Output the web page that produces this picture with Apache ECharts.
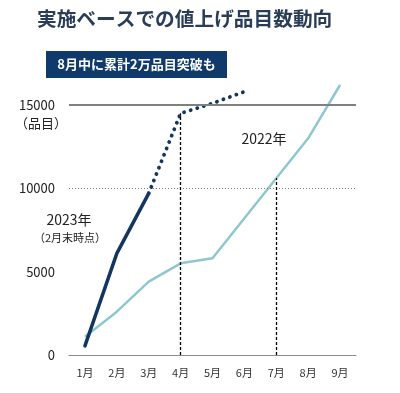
<!DOCTYPE html>
<html><head><meta charset="utf-8">
<script src="https://cdn.jsdelivr.net/npm/echarts@6/dist/echarts.min.js"></script>
<style>html,body{margin:0;padding:0;background:#fff}#c{width:400px;height:393px}</style>
</head><body><div id="c"></div>
<script>
const months = ['1月','2月','3月','4月','5月','6月','7月','8月','9月'];
const y2023 = [550, 6100, 9700, null, null, null, null, null, null];
const y2023proj = [null, null, 9700, 14500, 15100, 15800, null, null, null];
const y2022 = [1100, 2600, 4400, 5500, 5800, 8200, 10600, 13000, 16200];
const yTicks = [0, 5000, 10000, 15000];
const refMonths = ['4月', '7月'];
const refValues = [14500, 10600];

const font = "'Noto Sans CJK JP', 'Noto Sans', sans-serif";
const chart = echarts.init(document.getElementById('c'));
chart.setOption({
  animation: false,
  grid: {left: 69, right: 44, top: 105, bottom: 38},
  xAxis: {
    type: 'category', data: months, boundaryGap: true,
    axisLine: {lineStyle: {color: '#8c8c8c', width: 1}},
    axisTick: {show: false},
    axisLabel: {color: '#333', fontSize: 11, margin: 12, fontFamily: font}
  },
  yAxis: {
    type: 'value', min: 0, max: 15000, interval: 5000,
    axisLine: {show: false}, axisTick: {show: false},
    splitLine: {show: false},
    axisLabel: {color: '#222', fontSize: 13, margin: 14, fontFamily: font, formatter: v => String(v)}
  },
  graphic: [
    {type: 'text', left: 37, top: 9, style: {text: '実施ベースでの値上げ品目数動向', fill: '#2a3d58', font: "bold 19.7px " + font}},
    {type: 'rect', shape: {x: 46, y: 51, width: 181, height: 27}, style: {fill: '#0f3a6b'}},
    {type: 'text', x: 136.5, y: 64.5, style: {text: '8月中に累計2万品目突破も', fill: '#fff', font: "bold 13px " + font, align: 'center', verticalAlign: 'middle'}},
    {type: 'text', x: 41, y: 123, style: {text: '（品目）', fill: '#222', font: "13px " + font, align: 'center', verticalAlign: 'middle'}},
    {type: 'text', x: 69, y: 220, style: {text: '2023年', fill: '#222', font: "14px " + font, align: 'center', verticalAlign: 'middle'}},
    {type: 'text', x: 70, y: 238, style: {text: '（2月末時点）', fill: '#222', font: "11px " + font, align: 'center', verticalAlign: 'middle'}},
    {type: 'text', x: 264, y: 139, style: {text: '2022年', fill: '#222', font: "14px " + font, align: 'center', verticalAlign: 'middle'}}
  ],
  series: [
    {
      type: 'line', data: y2022, symbol: 'none', clip: false,
      lineStyle: {color: '#8ec8ce', width: 2.5},
      z: 3,
      markLine: {
        silent: true, symbol: 'none', label: {show: false},
        data: [
          {yAxis: yTicks[3], lineStyle: {color: '#808080', width: 2, type: 'solid'}},
          {yAxis: yTicks[2], lineStyle: {color: '#777', width: 1, type: [1, 2]}},
          [{coord: [refMonths[0], 0]}, {coord: [refMonths[0], refValues[0]]}],
          [{coord: [refMonths[1], 0]}, {coord: [refMonths[1], refValues[1]]}]
        ],
        lineStyle: {color: '#000', width: 1.3, type: [3, 2]}
      }
    },
    {
      type: 'line', data: y2023proj, symbol: 'none', clip: false, connectNulls: true,
      lineStyle: {color: '#13355f', width: 3.8, type: [0.1, 6.8], cap: 'round'},
      z: 4
    },
    {
      type: 'line', data: y2023, symbol: 'none', clip: false,
      lineStyle: {color: '#13355f', width: 3.5, cap: 'round'},
      z: 5
    }
  ]
});
</script></body></html>
